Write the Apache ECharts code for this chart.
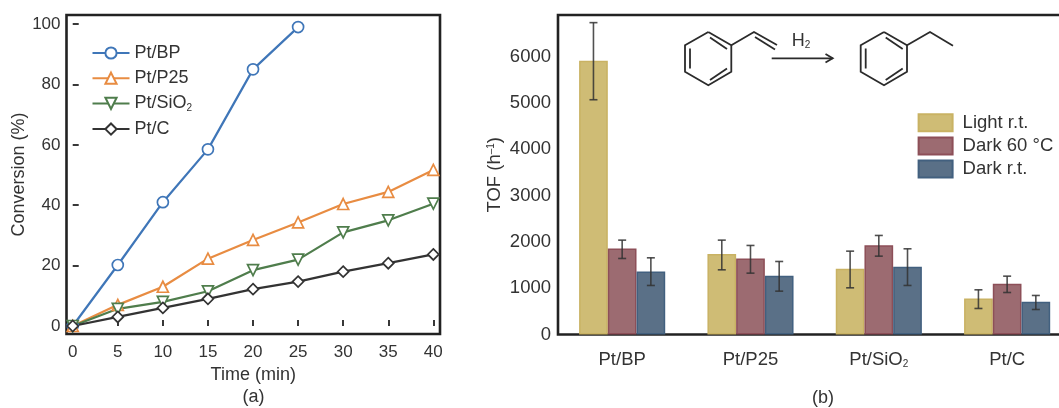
<!DOCTYPE html>
<html>
<head>
<meta charset="utf-8">
<style>html,body{margin:0;padding:0;background:#fff}#c{width:1059px;height:408px}</style>
<script src="https://cdn.jsdelivr.net/npm/echarts@6/dist/echarts.min.js"></script>
</head>
<body>
<div id="c"></div>
<script>
// Panel (a)
const times = [0, 5, 10, 15, 20, 25, 30, 35, 40];
const conversionTicks = [0, 20, 40, 60, 80, 100];
const ptBP = [0, 20.2, 41, 58.5, 85, 99];
const ptP25 = [0, 7, 13, 22.3, 28.5, 34.3, 40.4, 44.4, 51.7];
const ptSiO2 = [0, 5.7, 8, 11.5, 18.5, 22, 31, 35, 40.5];
const ptC = [0, 3, 6, 9, 12.2, 14.7, 18, 20.8, 23.7];
// Panel (b)
const catalysts = ['Pt/BP', 'Pt/P25', 'Pt/SiO2', 'Pt/C'];
const tofTicks = [0, 1000, 2000, 3000, 4000, 5000, 6000];
const lightRT = [5913, 1736, 1419, 778];
const dark60 = [1858, 1642, 1930, 1095];
const darkRT = [1361, 1267, 1462, 706];
const lightLow = [5070, 1397, 1008, 562];
const lightHigh = [6735, 2038, 1800, 965];
const dark60Low = [1642, 1325, 1692, 907];
const dark60High = [2038, 1923, 2139, 1260];
const darkRTLow = [1059, 936, 1059, 540];
const darkRTHigh = [1656, 1577, 1851, 843];

const FONT = '"Liberation Sans", Arial, sans-serif';
const INK = '#333333';
const FRAME = '#222222';
const BAR_W = 28.7;
const FS_A = 17;
const FS_NAME = 18;
const FS_B = 18.5;

const subRich = {
  sub: {fontFamily: FONT, fontSize: 10, color: INK, padding: [9, 0, 0, 0]},
  sup: {fontFamily: FONT, fontSize: 10, color: INK, padding: [0, 0, 7, 0]}
};
const subFmt = s => s.replace(/O2$/, 'O{sub|2}');

function pairs(ys) { return ys.map((y, i) => [times[i], y]); }

function lineSeries(name, ys, color, symbol) {
  return {
    name, type: 'line', xAxisIndex: 0, yAxisIndex: 0, data: pairs(ys),
    symbol, symbolSize: 11, showAllSymbol: true, clip: false,
    lineStyle: {color, width: 2.2},
    itemStyle: {color: '#ffffff', borderColor: color, borderWidth: 1.7},
    emphasis: {disabled: true}, animation: false
  };
}
function barSeries(name, ys, fill, edge) {
  return {
    name, type: 'bar', xAxisIndex: 1, yAxisIndex: 1, data: ys,
    barWidth: BAR_W, barGap: 0,
    itemStyle: {color: fill, borderColor: edge, borderWidth: 1.5},
    emphasis: {disabled: true}, animation: false
  };
}
function errorSeries(low, high, slot) {
  return {
    type: 'custom', xAxisIndex: 1, yAxisIndex: 1, silent: true, z: 5, animation: false,
    data: low.map((v, i) => [i, v, high[i]]),
    renderItem(params, api) {
      const i = api.value(0);
      const a = api.coord([i, api.value(1)]);
      const b = api.coord([i, api.value(2)]);
      const x = a[0] + slot * BAR_W;
      const st = {stroke: 'rgba(50,50,50,0.85)', lineWidth: 1.6};
      const cap = 4;
      return {type: 'group', children: [
        {type: 'line', shape: {x1: x, y1: a[1], x2: x, y2: b[1]}, style: st},
        {type: 'line', shape: {x1: x - cap, y1: a[1], x2: x + cap, y2: a[1]}, style: st},
        {type: 'line', shape: {x1: x - cap, y1: b[1], x2: x + cap, y2: b[1]}, style: st}
      ]};
    }
  };
}
function poly(points, w) {
  return {type: 'polyline', shape: {points}, style: {stroke: '#2b2b2b', lineWidth: w || 1.8, fill: null}, silent: true};
}
function benzene(dx) {
  return [
    poly([[708.3+dx,32],[731.3+dx,45.3],[731.3+dx,71.7],[708.3+dx,85.3],[685+dx,71.7],[685+dx,45.3],[708.3+dx,32]]),
    poly([[690+dx,48.5],[690+dx,68.5]]),
    poly([[710+dx,37.5],[727+dx,49]]),
    poly([[710+dx,80],[727+dx,68.5]])
  ];
}
function label(text, x, y, size) {
  return {type: 'text', x, y, silent: true, style: {
    text, fontFamily: FONT, fontSize: size || FS_NAME, fill: INK, align: 'center', verticalAlign: 'middle', rich: subRich}};
}

const option = {
  backgroundColor: '#ffffff',
  animation: false,
  textStyle: {fontFamily: FONT},
  grid: [
    {left: 66.5, top: 15, width: 373.5, height: 319, show: true, borderColor: FRAME, borderWidth: 2.6, backgroundColor: 'transparent', outerBoundsMode: 'none'},
    {left: 558, top: 15, width: 513.3, height: 319.5, show: true, borderColor: FRAME, borderWidth: 2.6, backgroundColor: 'transparent', outerBoundsMode: 'none'}
  ],
  xAxis: [
    {type: 'value', gridIndex: 0, min: -0.69, max: 40.74,
      name: 'Time (min)', nameLocation: 'middle', nameGap: 31,
      nameTextStyle: {fontFamily: FONT, fontSize: FS_NAME, color: INK},
      splitLine: {show: false},
      axisLine: {show: false},
      axisTick: {inside: true, length: 6, lineStyle: {color: FRAME, width: 1.8}, customValues: times},
      axisLabel: {fontFamily: FONT, fontSize: FS_A, color: INK, margin: 10, customValues: times}},
    {type: 'category', gridIndex: 1, data: catalysts,
      axisLine: {show: false}, axisTick: {show: false},
      axisLabel: {fontFamily: FONT, fontSize: FS_B, color: INK, margin: 16, interval: 0, rich: subRich, formatter: subFmt}}
  ],
  yAxis: [
    {type: 'value', gridIndex: 0, min: -2.65, max: 103,
      name: 'Conversion (%)', nameLocation: 'middle', nameGap: 37,
      nameTextStyle: {fontFamily: FONT, fontSize: FS_NAME, color: INK},
      splitLine: {show: false},
      axisLine: {show: false},
      axisTick: {inside: true, length: 6, lineStyle: {color: FRAME, width: 1.8}, customValues: conversionTicks},
      axisLabel: {fontFamily: FONT, fontSize: FS_A, color: INK, margin: 6, customValues: conversionTicks}},
    {type: 'value', gridIndex: 1, min: 0, max: 6900,
      name: 'TOF (h{sup|–1})', nameLocation: 'middle', nameGap: 54,
      nameTextStyle: {fontFamily: FONT, fontSize: FS_B, color: INK, rich: subRich},
      splitLine: {show: false},
      axisLine: {show: false},
      axisTick: {inside: true, length: 6, lineStyle: {color: FRAME, width: 1.8}, customValues: tofTicks},
      axisLabel: {fontFamily: FONT, fontSize: FS_B, color: INK, margin: 7, customValues: tofTicks, formatter: v => String(v)}}
  ],
  legend: [
    {data: ['Pt/BP', 'Pt/P25', 'Pt/SiO2', 'Pt/C'], orient: 'vertical', left: 91.5, top: 44,
      itemWidth: 37, itemHeight: 14, itemGap: 7.2, selectedMode: false, padding: 0,
      formatter: subFmt,
      textStyle: {fontFamily: FONT, fontSize: FS_NAME, color: INK, rich: subRich}},
    {data: ['Light r.t.', 'Dark 60 °C', 'Dark r.t.'].map(name => ({name, icon: 'rect'})), orient: 'vertical', left: 917.6, top: 113.2,
      itemWidth: 34, itemHeight: 17, itemGap: 4.2, selectedMode: false, padding: 0,
      textStyle: {fontFamily: FONT, fontSize: FS_B, color: INK, padding: [0, 0, 0, 5]}}
  ],
  series: [
    lineSeries('Pt/BP', ptBP, '#3f76b8', 'circle'),
    lineSeries('Pt/P25', ptP25, '#e88c42', 'triangle'),
    lineSeries('Pt/SiO2', ptSiO2, '#4f7d4c', 'path://M0,0L10,0L5,9Z'),
    lineSeries('Pt/C', ptC, '#333333', 'diamond'),
    barSeries('Light r.t.', lightRT, '#cfbc75', '#c9b263'),
    barSeries('Dark 60 °C', dark60, '#9c6b71', '#8d4f58'),
    barSeries('Dark r.t.', darkRT, '#5a7087', '#42607f'),
    errorSeries(lightLow, lightHigh, -1),
    errorSeries(dark60Low, dark60High, 0),
    errorSeries(darkRTLow, darkRTHigh, 1)
  ],
  graphic: [
    label('(a)', 253.5, 397),
    label('(b)', 823, 398),
    ...benzene(0),
    ...benzene(175.7),
    poly([[731.3,45.3],[754,32],[777,45]]),
    poly([[755,37],[775,49.5]]),
    poly([[907,45.3],[930,32],[953,45.7]]),
    poly([[771.7,58.3],[832.7,58.3]]),
    poly([[825.5,54],[832.7,58.3],[825.5,62.5]]),
    label('H{sub|2}', 801, 41, 18)
  ]
};
echarts.init(document.getElementById('c'), null, {renderer: 'canvas'}).setOption(option);
</script>
</body>
</html>
